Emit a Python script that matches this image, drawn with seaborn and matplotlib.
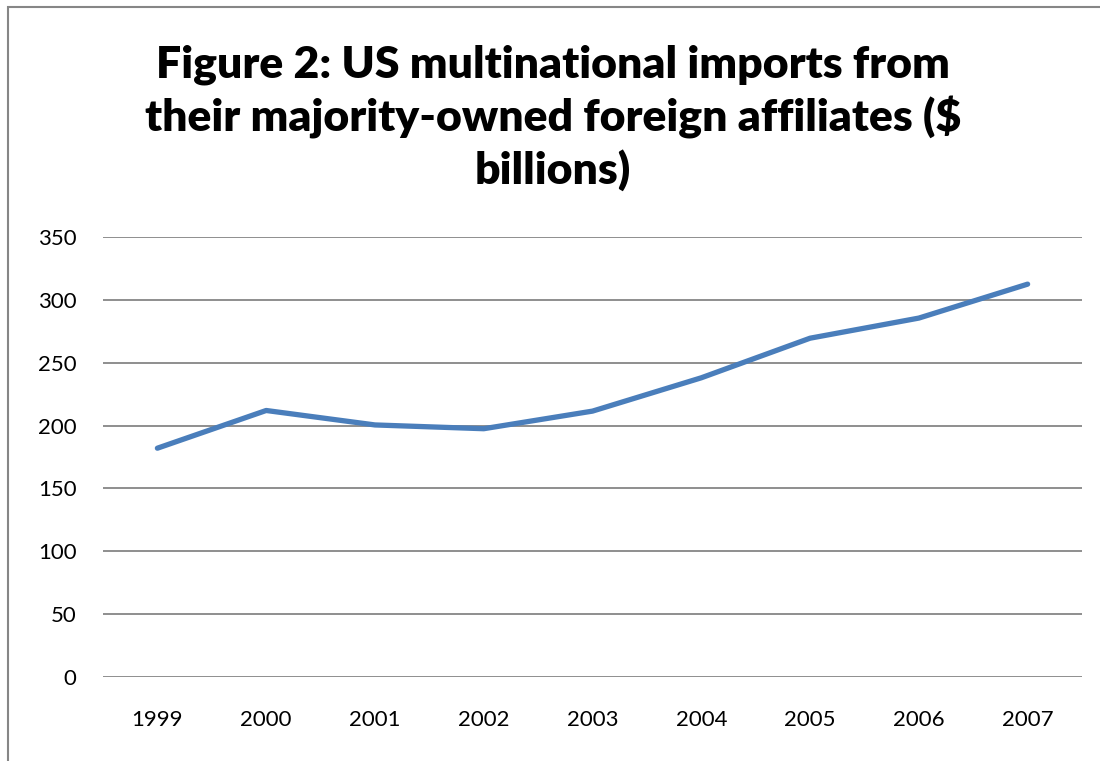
import matplotlib
matplotlib.use("Agg")
import matplotlib.pyplot as plt
import seaborn as sns
import pandas as pd
from matplotlib.patches import Rectangle

years = ["1999", "2000", "2001", "2002", "2003", "2004", "2005", "2006", "2007"]
imports = [182, 212, 200.5, 197.5, 211.5, 238, 269.5, 285.5, 312.5]
y_ticks = [0, 50, 100, 150, 200, 250, 300, 350]
title = "Figure 2: US multinational imports from\ntheir majority-owned foreign affiliates ($\nbillions)"

sns.set_theme(style="white")
plt.rcParams['font.family'] = ['Lato', 'DejaVu Sans']

df = pd.DataFrame({"year": years, "value": imports})

fig = plt.figure(figsize=(11, 7.61), dpi=100)
ax = fig.add_axes([103/1100, 84/761, 979/1100, 440/761])

sns.lineplot(data=df, x="year", y="value", ax=ax, color="#4A7EBB",
             linewidth=3.8, solid_capstyle="round", solid_joinstyle="round", zorder=3)

ax.set_ylim(0, 350)
ax.set_xlim(-0.5, len(years) - 0.5)
ax.set_yticks(y_ticks)
ax.set_yticklabels([str(v) for v in y_ticks])
ax.yaxis.grid(True, color="#868686", linewidth=1.3)
ax.xaxis.grid(False)
for s in ax.spines.values():
    s.set_visible(False)
ax.set_xlabel("")
ax.set_ylabel("")
ax.tick_params(axis="both", length=0, labelsize=16, colors="black")
ax.tick_params(axis="y", pad=19)
ax.tick_params(axis="x", pad=24)
for lbl in ax.get_yticklabels():
    lbl.set_horizontalalignment("right")

fig.text(553/1100, 1 - 118/761, title, ha="center", va="center",
         fontsize=32, fontweight="heavy", linespacing=1.3, color="black")

fig.patches.append(Rectangle((8/1100, -0.1), 1.2, 1 - 7/761 + 0.1,
                             transform=fig.transFigure, fill=False,
                             edgecolor="#868686", linewidth=1.5))

fig.savefig("out.png", dpi=100, facecolor="white")
